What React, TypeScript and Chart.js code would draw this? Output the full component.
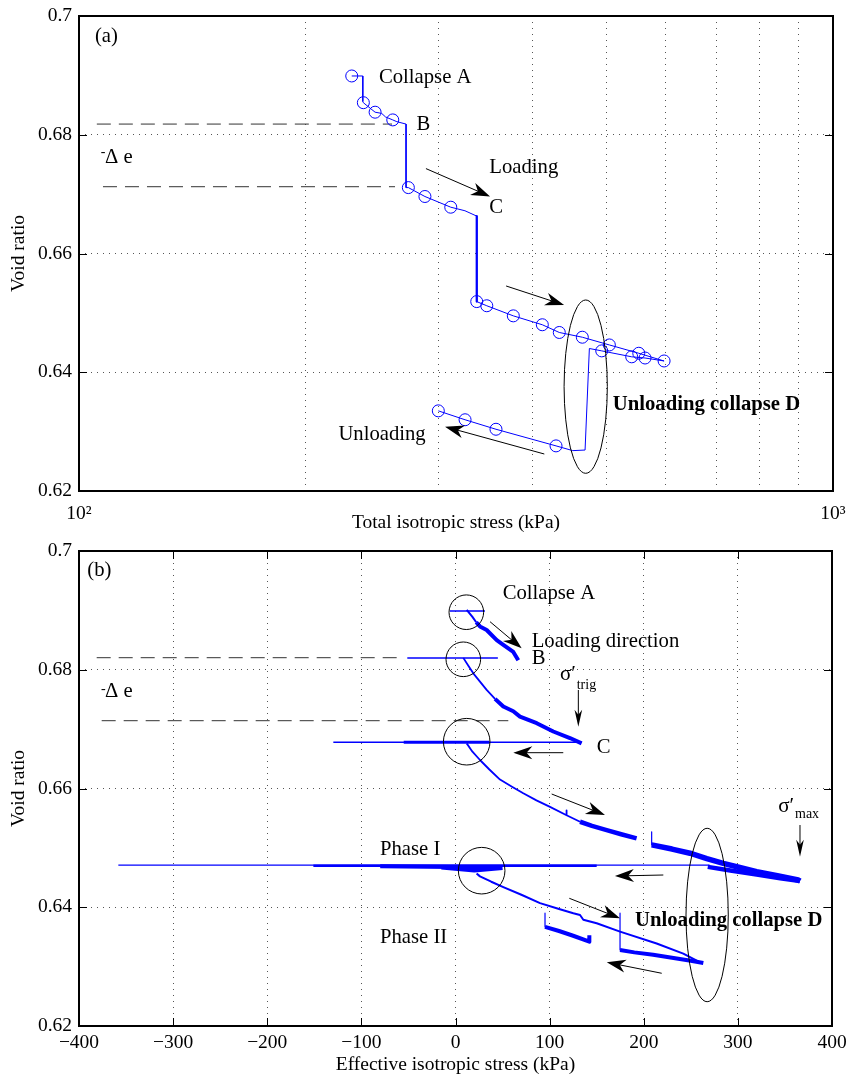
import React, { useEffect, useRef } from 'react';
import { Chart, registerables } from 'chart.js';
Chart.register(...registerables);

const FONT = "'Liberation Serif', 'Times New Roman', Times, serif";
const BLUE = '#0000ff';
const AX_FONT = 19.5;
const ANN_FONT = 20.7;

// ---------------- Panel (a): total isotropic stress (log axis) ----------------
const aTickValues = [100, 200, 300, 400, 500, 600, 700, 800, 900, 1000];
const aPathX = [230, 237.9, 237.9, 238.3, 247, 252, 255, 260.7, 264, 271.5, 271.5, 273.4, 287.6, 311.2, 325, 336.9, 336.9, 347.4, 376.7, 411.6, 433.5, 465.1, 505.1, 552.6, 597, 563.3, 540.8, 493.5, 475.2, 469, 451.7, 429.2, 357.3, 325.1, 299.6];
const aPathY = [0.6899, 0.6899, 0.6856, 0.6854, 0.6838, 0.6836, 0.683, 0.6825, 0.6822, 0.6818, 0.6711, 0.6711, 0.6696, 0.6678, 0.6672, 0.6663, 0.6519, 0.6512, 0.6495, 0.648, 0.6467, 0.6459, 0.6446, 0.6432, 0.6419, 0.6424, 0.6426, 0.6436, 0.644, 0.6269, 0.6268, 0.6276, 0.6304, 0.632, 0.6335];
const aDropX = [336.9, 336.9];
const aDropY = [0.6663, 0.6519];
const aMarkX = [230, 238.3, 247, 260.7, 273.4, 287.6, 311.2, 336.9, 347.4, 376.7, 411.6, 433.5, 465.1, 505.1, 552.6, 597, 563.3, 540.8, 493.5, 429.2, 357.3, 325.1, 299.6];
const aMarkY = [0.6899, 0.6854, 0.6838, 0.6825, 0.6711, 0.6696, 0.6678, 0.6519, 0.6512, 0.6495, 0.648, 0.6467, 0.6459, 0.6446, 0.6432, 0.6419, 0.6424, 0.6426, 0.6436, 0.6276, 0.6304, 0.632, 0.6335];
const aDash1X = [105.6, 260.1];
const aDash1Y = [0.6818, 0.6818];
const aDash2X = [107.6, 262.5];
const aDash2Y = [0.67125, 0.67125];

// ---------------- Panel (b): effective isotropic stress ----------------
const bCollapseAX = [-5.9, 31.3];
const bCollapseAY = [0.6899, 0.6899];
const bCurveA1X = [11.9, 18, 22];
const bCurveA1Y = [0.6901, 0.6889, 0.688];
const bCurveA2X = [22, 26, 33.1, 43.8, 50.8, 61.4, 66.7];
const bCurveA2Y = [0.688, 0.6873, 0.6867, 0.685, 0.6842, 0.683, 0.6816];
const bHorizBX = [-51.2, 45];
const bHorizBY = [0.682, 0.682];
const bCurveB1X = [8.3, 14, 18.9, 26, 33.1, 42];
const bCurveB1Y = [0.682, 0.6806, 0.6794, 0.678, 0.6766, 0.6751];
const bCurveB2X = [42, 50.8, 61.4, 68.5, 86.3, 103.9, 121.6, 134];
const bCurveB2Y = [0.6751, 0.6738, 0.673, 0.6721, 0.671, 0.6696, 0.6685, 0.6676];
const bHorizCX = [-129.8, 134];
const bHorizCY = [0.6678, 0.6678];
const bHorizCThickX = [-55, 36];
const bHorizCThickY = [0.6678, 0.6678];
const bCurveC1X = [11.9, 18, 26, 36, 47.3, 60, 72, 86, 100.4, 118, 118, 118, 132.3];
const bCurveC1Y = [0.6676, 0.6662, 0.6648, 0.6632, 0.6615, 0.6603, 0.6592, 0.658, 0.6569, 0.6555, 0.6563, 0.6555, 0.6544];
const bCurveC2X = [132.3, 145, 160.6, 176, 192.4];
const bCurveC2Y = [0.6544, 0.6537, 0.653, 0.6523, 0.6516];
const bSpikeC3X = [208.4, 208.4];
const bSpikeC3Y = [0.6527, 0.6505];
const bCurveC3X = [208.4, 230, 249.1, 267, 284.5, 302, 320, 342, 364.2, 366];
const bCurveC3Y = [0.6505, 0.6498, 0.6491, 0.6482, 0.6474, 0.6467, 0.646, 0.6453, 0.6446, 0.6444];
const bUnloadDX = [268, 292, 320, 345, 366];
const bUnloadDY = [0.6468, 0.6462, 0.6455, 0.6449, 0.6444];
const bPhaseIX = [-358.2, 270];
const bPhaseIY = [0.6471, 0.6471];
const bPhaseIMedX = [-151, 150];
const bPhaseIMedY = [0.647, 0.647];
const bPhaseIThickX = [-80, 45];
const bPhaseIThickY = [0.6469, 0.6467];
const bPhaseIMassX = [-15, 20, 50];
const bPhaseIMassY = [0.6467, 0.6462, 0.6466];
const bCurveDX = [22.4, 26, 38, 50.8, 70, 89.8, 110, 125.2, 132.3, 135.8, 142.9, 150, 174.8, 213.7, 242, 261.5];
const bCurveDY = [0.6457, 0.6452, 0.6443, 0.6434, 0.6421, 0.6407, 0.6397, 0.639, 0.6387, 0.6379, 0.6376, 0.6373, 0.6359, 0.6339, 0.6322, 0.6306];
const bSpike2X = [95.1, 95.1];
const bSpike2Y = [0.639, 0.6367];
const bBand2X = [95.1, 110, 125, 142.2, 142.2];
const bBand2Y = [0.6367, 0.636, 0.6352, 0.6342, 0.6353];
const bSpike3X = [174.8, 174.8];
const bSpike3Y = [0.639, 0.6328];
const bBand3X = [174.8, 190, 210, 230, 250, 263.3];
const bBand3Y = [0.6328, 0.6324, 0.632, 0.6315, 0.631, 0.6306];
const bDash1X = [-381.2, -62.5];
const bDash1Y = [0.68203, 0.68203];
const bDash2X = [-375.9, 56.1];
const bDash2Y = [0.67142, 0.67142];

// ---------------- annotations ----------------
type Txt = { text: string; x: number; y: number; size?: number; bold?: boolean; baseline?: CanvasTextBaseline };
type Arrow = { x1: number; y1: number; x2: number; y2: number; head?: number; half?: number };
type Ell = { xMin: number; xMax: number; yMin: number; yMax: number };
type Circ = { x: number; y: number; r: number };

const aTexts: Txt[] = [
  { text: '(a)', x: 105.0, y: 0.69554 },
  { text: 'Collapse A', x: 249.9, y: 0.6887 },
  { text: 'B', x: 280.4, y: 0.6808 },
  { text: 'Loading', x: 350.1, y: 0.6736 },
  { text: 'C', x: 350.1, y: 0.6668 },
  { text: '-', x: 106.9, y: 0.67698, size: 14, baseline: 'middle' },
  { text: 'Δ e', x: 108.3, y: 0.6752 },
  { text: 'Unloading', x: 220.8, y: 0.6286 },
  { text: 'Unloading collapse D', x: 510.4, y: 0.6336, bold: true },
];
const aArrows: Arrow[] = [
  { x1: 288.5, y1: 0.6743, x2: 350.9, y2: 0.6696 },
  { x1: 368.5, y1: 0.65453, x2: 439.9, y2: 0.65133 },
  { x1: 414.1, y1: 0.62623, x2: 305.8, y2: 0.63083 },
];
const aEllipses: Ell[] = [{ xMin: 439.9, xMax: 502.0, yMin: 0.62298, yMax: 0.65217 }];

const bTexts: Txt[] = [
  { text: '(b)', x: -391.2, y: 0.69579 },
  { text: 'Collapse A', x: 50.1, y: 0.69187 },
  { text: 'Loading direction', x: 80.9, y: 0.68378 },
  { text: 'B', x: 80.9, y: 0.68092 },
  { text: 'σ′', x: 111.0, y: 0.67827, size: 21 },
  { text: 'trig', x: 128.8, y: 0.67676, size: 14 },
  { text: 'C', x: 150.0, y: 0.66603 },
  { text: 'σ′', x: 342.9, y: 0.65609, size: 21 },
  { text: 'max', x: 360.7, y: 0.65503, size: 14 },
  { text: 'Phase I', x: -80.2, y: 0.6488 },
  { text: 'Phase II', x: -80.2, y: 0.63393 },
  { text: 'Unloading collapse D', x: 190.7, y: 0.63684, bold: true },
  { text: '-', x: -376.6, y: 0.67671, size: 14, baseline: 'middle' },
  { text: 'Δ e', x: -372.4, y: 0.67546 },
];
const bArrows: Arrow[] = [
  { x1: 36.7, y1: 0.68809, x2: 70.3, y2: 0.68361 },
  { x1: 130.5, y1: 0.67659, x2: 130.5, y2: 0.67041, head: 17, half: 3.8 },
  { x1: 114.5, y1: 0.66603, x2: 61.4, y2: 0.66603 },
  { x1: 102.2, y1: 0.65907, x2: 158.8, y2: 0.65554 },
  { x1: 366.0, y1: 0.65385, x2: 366.0, y2: 0.64851, head: 17, half: 3.8 },
  { x1: 220.8, y1: 0.64543, x2: 169.4, y2: 0.64526 },
  { x1: 120.9, y1: 0.64151, x2: 174.8, y2: 0.63814 },
  { x1: 219.1, y1: 0.62888, x2: 160.7, y2: 0.63073 },
];
const bEllipses: Ell[] = [{ xMin: 244.9, xMax: 289.8, yMin: 0.62409, yMax: 0.6533 }];
const bCircles: Circ[] = [
  { x: 11.5, y: 0.68969, r: 0.002914 },
  { x: 8.3, y: 0.68176, r: 0.002914 },
  { x: 11.9, y: 0.66788, r: 0.003924 },
  { x: 27.8, y: 0.64616, r: 0.003924 },
];

// ---------------- helpers ----------------
const pts = (xs: number[], ys: number[]) => xs.map((x, i) => ({ x, y: ys[i] }));

function lineDs(xs: number[], ys: number[], width: number, color = BLUE, dash: number[] = []) {
  return {
    data: pts(xs, ys),
    showLine: true,
    borderColor: color,
    borderWidth: width,
    borderDash: dash,
    pointRadius: 0,
    pointHoverRadius: 0,
    fill: false,
    tension: 0,
    borderJoinStyle: 'round',
    borderCapStyle: 'butt',
  };
}

function zeroPad(s: any) {
  s.paddingLeft = 0;
  s.paddingRight = 0;
  s.paddingTop = 0;
  s.paddingBottom = 0;
}

function annotationPlugin(texts: Txt[], arrows: Arrow[], ellipses: Ell[], circles: Circ[], xTicks: boolean) {
  return {
    id: 'annot',
    afterDatasetsDraw(chart: any) {
      const ctx = chart.ctx as CanvasRenderingContext2D;
      const xs = chart.scales.x;
      const ys = chart.scales.y;
      const px = (v: number) => xs.getPixelForValue(v);
      const py = (v: number) => ys.getPixelForValue(v);
      ctx.save();
      ctx.strokeStyle = '#000';
      ctx.lineWidth = 1;
      for (const e of ellipses) {
        const l = px(e.xMin), r = px(e.xMax), t = py(e.yMax), b = py(e.yMin);
        ctx.beginPath();
        ctx.ellipse((l + r) / 2, (t + b) / 2, (r - l) / 2, (b - t) / 2, 0, 0, Math.PI * 2);
        ctx.stroke();
      }
      for (const c of circles) {
        const cx = px(c.x), cy = py(c.y);
        const rr = Math.abs(py(c.y + c.r) - cy);
        ctx.beginPath();
        ctx.arc(cx, cy, rr, 0, Math.PI * 2);
        ctx.stroke();
      }
      for (const a of arrows) {
        const x1 = px(a.x1), y1 = py(a.y1), x2 = px(a.x2), y2 = py(a.y2);
        const L = a.head ?? 19;
        const W = a.half ?? 6.5;
        const dx = x2 - x1, dy = y2 - y1;
        const len = Math.hypot(dx, dy);
        const ux = dx / len, uy = dy / len, nx = -uy, ny = ux;
        ctx.beginPath();
        ctx.moveTo(x1, y1);
        ctx.lineTo(x2 - ux * L * 0.6, y2 - uy * L * 0.6);
        ctx.stroke();
        ctx.beginPath();
        ctx.moveTo(x2, y2);
        ctx.lineTo(x2 - ux * L + nx * W, y2 - uy * L + ny * W);
        ctx.lineTo(x2 - ux * L * 0.7, y2 - uy * L * 0.7);
        ctx.lineTo(x2 - ux * L - nx * W, y2 - uy * L - ny * W);
        ctx.closePath();
        ctx.fillStyle = '#000';
        ctx.fill();
      }
      ctx.fillStyle = '#000';
      ctx.textAlign = 'left';
      for (const t of texts) {
        ctx.font = `${t.bold ? 'bold ' : ''}${t.size ?? ANN_FONT}px ${FONT}`;
        ctx.textBaseline = t.baseline ?? 'alphabetic';
        ctx.fillText(t.text, px(t.x), py(t.y));
      }
      ctx.restore();
    },
    afterDraw(chart: any) {
      const ctx = chart.ctx as CanvasRenderingContext2D;
      const { left, right, top, bottom } = chart.chartArea;
      const xs = chart.scales.x;
      const ys = chart.scales.y;
      ctx.save();
      ctx.strokeStyle = '#000';
      ctx.lineWidth = 1;
      const tl = 8;
      ctx.beginPath();
      for (const t of ys.ticks) {
        const y = Math.round(ys.getPixelForValue(t.value)) + 0.5;
        if (y <= top + 2 || y >= bottom - 2) continue;
        ctx.moveTo(left, y); ctx.lineTo(left + tl, y);
        ctx.moveTo(right, y); ctx.lineTo(right - tl, y);
      }
      if (xTicks) {
        for (const t of xs.ticks) {
          const x = Math.round(xs.getPixelForValue(t.value)) + 0.5;
          if (x <= left + 2 || x >= right - 2) continue;
          ctx.moveTo(x, bottom); ctx.lineTo(x, bottom - tl);
          ctx.moveTo(x, top); ctx.lineTo(x, top + tl);
        }
      }
      ctx.stroke();
      ctx.lineWidth = 2;
      ctx.strokeRect(left, top, right - left, bottom - top);
      ctx.restore();
    },
  };
}

function yScale() {
  return {
    type: 'linear',
    min: 0.62,
    max: 0.7,
    afterFit: (s: any) => { s.width = 79; zeroPad(s); },
    ticks: {
      stepSize: 0.02,
      padding: 7,
      autoSkip: false,
      color: '#000',
      font: { family: FONT, size: AX_FONT },
      callback: (v: any) => String(Number(Number(v).toFixed(2))),
    },
    grid: { color: '#555', lineWidth: 1, drawTicks: false },
    border: { display: false, dash: [1, 5] },
    title: {
      display: true,
      text: 'Void ratio',
      color: '#000',
      font: { family: FONT, size: AX_FONT },
      padding: { top: 7.3, bottom: 0 },
    },
  };
}

function buildA(): any {
  return {
    type: 'scatter',
    data: {
      datasets: [
        {
          data: pts(aMarkX, aMarkY),
          showLine: false,
          pointRadius: 6,
          pointHoverRadius: 6,
          pointBorderWidth: 1,
          pointBorderColor: BLUE,
          pointBackgroundColor: 'rgba(0,0,0,0)',
        },
        lineDs(aPathX, aPathY, 1),
        lineDs(aDropX, aDropY, 2.2),
        lineDs(aDash1X, aDash1Y, 1, '#333', [14, 8]),
        lineDs(aDash2X, aDash2Y, 1, '#333', [14, 8]),
      ],
    },
    options: {
      responsive: false,
      devicePixelRatio: 1,
      animation: false,
      events: [],
      layout: { padding: { left: 0, right: 15, top: 16, bottom: 0 } },
      plugins: { legend: { display: false }, tooltip: { enabled: false } },
      scales: {
        x: {
          type: 'logarithmic',
          min: 100,
          max: 1000,
          afterBuildTicks: (s: any) => { s.ticks = aTickValues.map((v) => ({ value: v })); },
          afterFit: (s: any) => { s.height = 46; zeroPad(s); },
          ticks: {
            autoSkip: false,
            maxRotation: 0,
            padding: 10.8,
            color: '#000',
            font: { family: FONT, size: AX_FONT },
            callback: (v: any) => (Math.abs(v - 100) < 1e-6 ? '10²' : Math.abs(v - 1000) < 1e-6 ? '10³' : ''),
          },
          grid: { color: '#555', lineWidth: 1, drawTicks: false },
          border: { display: false, dash: [1, 5] },
          title: {
            display: true,
            text: 'Total isotropic stress (kPa)',
            color: '#000',
            font: { family: FONT, size: AX_FONT },
            padding: { top: 0, bottom: 2 },
          },
        },
        y: yScale(),
      },
    },
    plugins: [annotationPlugin(aTexts, aArrows, aEllipses, [], false)],
  };
}

function buildB(): any {
  return {
    type: 'scatter',
    data: {
      datasets: [
        lineDs(bCollapseAX, bCollapseAY, 1.5),
        lineDs(bCurveA1X, bCurveA1Y, 2),
        lineDs(bCurveA2X, bCurveA2Y, 4),
        lineDs(bHorizBX, bHorizBY, 1.5),
        lineDs(bCurveB1X, bCurveB1Y, 1.8),
        lineDs(bCurveB2X, bCurveB2Y, 4),
        lineDs(bHorizCX, bHorizCY, 1.5),
        lineDs(bHorizCThickX, bHorizCThickY, 3),
        lineDs(bCurveC1X, bCurveC1Y, 1.8),
        lineDs(bCurveC2X, bCurveC2Y, 4.5),
        lineDs(bSpikeC3X, bSpikeC3Y, 1.2),
        lineDs(bCurveC3X, bCurveC3Y, 5.5),
        lineDs(bUnloadDX, bUnloadDY, 4.5),
        lineDs(bPhaseIX, bPhaseIY, 1.2),
        lineDs(bPhaseIMedX, bPhaseIMedY, 2.5),
        lineDs(bPhaseIThickX, bPhaseIThickY, 4),
        lineDs(bPhaseIMassX, bPhaseIMassY, 4),
        lineDs(bCurveDX, bCurveDY, 2),
        lineDs(bSpike2X, bSpike2Y, 1.2),
        lineDs(bBand2X, bBand2Y, 4),
        lineDs(bSpike3X, bSpike3Y, 1.2),
        lineDs(bBand3X, bBand3Y, 4),
        lineDs(bDash1X, bDash1Y, 1, '#333', [14, 8]),
        lineDs(bDash2X, bDash2Y, 1, '#333', [14, 8]),
      ],
    },
    options: {
      responsive: false,
      devicePixelRatio: 1,
      animation: false,
      events: [],
      layout: { padding: { left: 0, right: 16, top: 14, bottom: 0 } },
      plugins: { legend: { display: false }, tooltip: { enabled: false } },
      scales: {
        x: {
          type: 'linear',
          min: -400,
          max: 400,
          afterFit: (s: any) => { s.height = 48; zeroPad(s); },
          ticks: {
            stepSize: 100,
            autoSkip: false,
            maxRotation: 0,
            padding: 5.6,
            color: '#000',
            font: { family: FONT, size: AX_FONT },
            callback: (v: any) => (v < 0 ? '\u2212' + Math.abs(v) : String(v)),
          },
          grid: { color: '#555', lineWidth: 1, drawTicks: false },
          border: { display: false, dash: [1, 5] },
          title: {
            display: true,
            text: 'Effective isotropic stress (kPa)',
            color: '#000',
            font: { family: FONT, size: AX_FONT },
            padding: { top: 0, bottom: -2.7 },
          },
        },
        y: yScale(),
      },
    },
    plugins: [annotationPlugin(bTexts, bArrows, bEllipses, bCircles, true)],
  };
}

function ChartCanvas({ build, top, height }: { build: () => any; top: number; height: number }) {
  const ref = useRef<HTMLCanvasElement | null>(null);
  useEffect(() => {
    if (!ref.current) return;
    const chart = new Chart(ref.current, build());
    return () => chart.destroy();
  }, [build]);
  return (
    <canvas
      ref={ref}
      width={848}
      height={height}
      style={{ position: 'absolute', left: 0, top, width: 848, height, display: 'block' }}
    />
  );
}

export default function App() {
  return (
    <div style={{ position: 'fixed', left: 0, top: 0, width: 848, height: 1074, background: '#fff', overflow: 'hidden' }}>
      <ChartCanvas build={buildA} top={0} height={537} />
      <ChartCanvas build={buildB} top={537} height={537} />
    </div>
  );
}
